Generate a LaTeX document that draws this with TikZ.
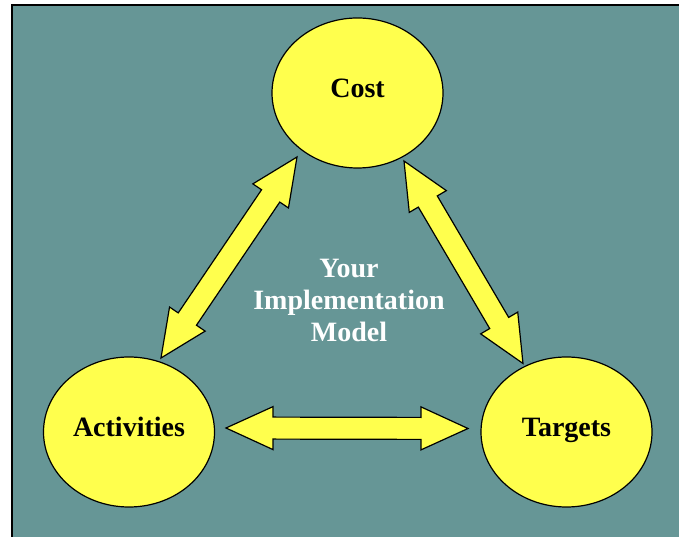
\documentclass[tikz,border=0pt]{standalone}
\usepackage{fontspec}
\setmainfont{Liberation Serif}
\usetikzlibrary{positioning}
\usetikzlibrary{calc}
\usetikzlibrary{shapes.geometric}
\definecolor{slideteal}{RGB}{102,150,150}
\definecolor{bubbleyellow}{RGB}{255,255,77}

\newcommand{\fatarrow}[2]{%
	\coordinate (h1) at ($(#1)!47pt!(#2)$);
	\coordinate (h2) at ($(#2)!47pt!(#1)$);
	\filldraw[arrowbody] (#1) -- ($(h1)!21.5pt!90:(#2)$) -- ($(h1)!11pt!90:(#2)$)
		-- ($(h2)!11pt!-90:(#1)$) -- ($(h2)!21.5pt!-90:(#1)$) -- (#2)
		-- ($(h2)!21.5pt!90:(#1)$) -- ($(h2)!11pt!90:(#1)$)
		-- ($(h1)!11pt!-90:(#2)$) -- ($(h1)!21.5pt!-90:(#2)$) -- cycle;}

\begin{document}
\begin{tikzpicture}[x=1pt,y=1pt,line width=1.2pt,node distance=437.5pt,
					font=\fontsize{28}{32}\selectfont\bfseries]
					\tikzstyle{bubble}=[ellipse,draw,fill=bubbleyellow,minimum width=171pt,
					minimum height=150pt,inner sep=0pt,text height=19pt,text depth=9pt]
					\tikzstyle{arrowbody}=[draw,fill=bubbleyellow,line join=miter]
					
					\useasboundingbox (0,0) rectangle (679,537);
					\draw[fill=slideteal,line width=1.5pt] (12,532) rectangle (690,-10);
					
					\node[bubble]        (cost)       at (357.5,444)        {Cost};
					\node[bubble]        (activities) at (129,105)          {Activities};
					\node[bubble]        (targets)    [right of=activities] {Targets};
					\node[text=white,align=center] (model) at (349,237) {Your\\Implementation\\Model};
					
					\coordinate (cost-left)   at ([shift={(-60.5,-64)}]cost.center);
					\coordinate (cost-right)  at ([shift={(46.5,-68)}]cost.center);
					\coordinate (act-top)     at ([shift={(32,74)}]activities.center);
					\coordinate (act-right)   at ([shift={(97,4)}]activities.center);
					\coordinate (tgt-top)     at ([shift={(-43.5,68.5)}]targets.center);
					\coordinate (tgt-left)    at ([shift={(-98.5,3.5)}]targets.center);
					
					\fatarrow{cost-left}{act-top}
					\fatarrow{cost-right}{tgt-top}
					\fatarrow{act-right}{tgt-left}
					
					\end{tikzpicture}
\end{document}
